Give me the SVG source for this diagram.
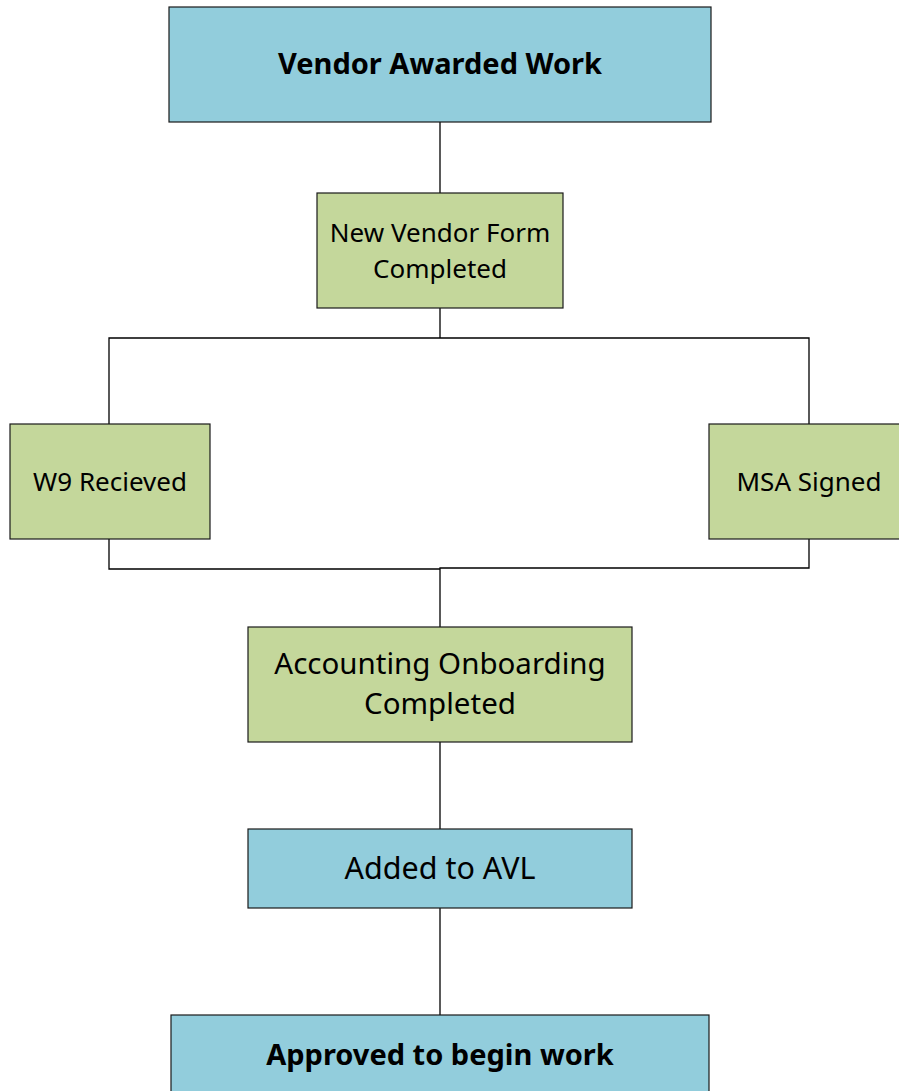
<svg xmlns="http://www.w3.org/2000/svg" width="899" height="1091" viewBox="0 0 899 1091">
<style>
.blue{fill:#92CDDC;stroke:#1a1a1a;stroke-width:1.2}
.green{fill:#C4D79B;stroke:#1a1a1a;stroke-width:1.2}
.t{font-family:"Noto Sans","Open Sans",sans-serif;fill:#000;text-anchor:middle;dominant-baseline:central}
.b{font-weight:bold;font-size:29px}
.s{font-size:26px}
.l{font-size:29.5px}
.conn{fill:none;stroke:#000;stroke-width:1.3}
</style>
<rect width="899" height="1091" fill="#fff"/>
<g id="connectors">
<path class="conn" d="M440 122V193"/>
<path class="conn" d="M440 308V338M109 424V338H809V424"/>
<path class="conn" d="M109 539V569H440M809 539V568H440V627"/>
<path class="conn" d="M440 742V829"/>
<path class="conn" d="M440 908V1015"/>
</g>
<g id="n1"><rect class="blue" x="169" y="7" width="542" height="115"/><text class="t b" x="440" y="62.5">Vendor Awarded Work</text></g>
<g id="n2"><rect class="green" x="317" y="193" width="246" height="115"/><text class="t s" x="440" y="231.5">New Vendor Form</text><text class="t s" x="440" y="267.5">Completed</text></g>
<g id="n3"><rect class="green" x="10" y="424" width="200" height="115"/><text class="t s" x="110" y="480.5">W9 Recieved</text></g>
<g id="n4"><rect class="green" x="709" y="424" width="200" height="115"/><text class="t s" x="809" y="480.5">MSA Signed</text></g>
<g id="n5"><rect class="green" x="248" y="627" width="384" height="115"/><text class="t l" x="440" y="662.5">Accounting Onboarding</text><text class="t l" x="440" y="702.5">Completed</text></g>
<g id="n6"><rect class="blue" x="248" y="829" width="384" height="79"/><text class="t" x="440" y="866.5" font-size="30.5">Added to AVL</text></g>
<g id="n7"><rect class="blue" x="171" y="1015" width="538" height="90"/><text class="t b" x="440" y="1053.5">Approved to begin work</text></g>
</svg>
